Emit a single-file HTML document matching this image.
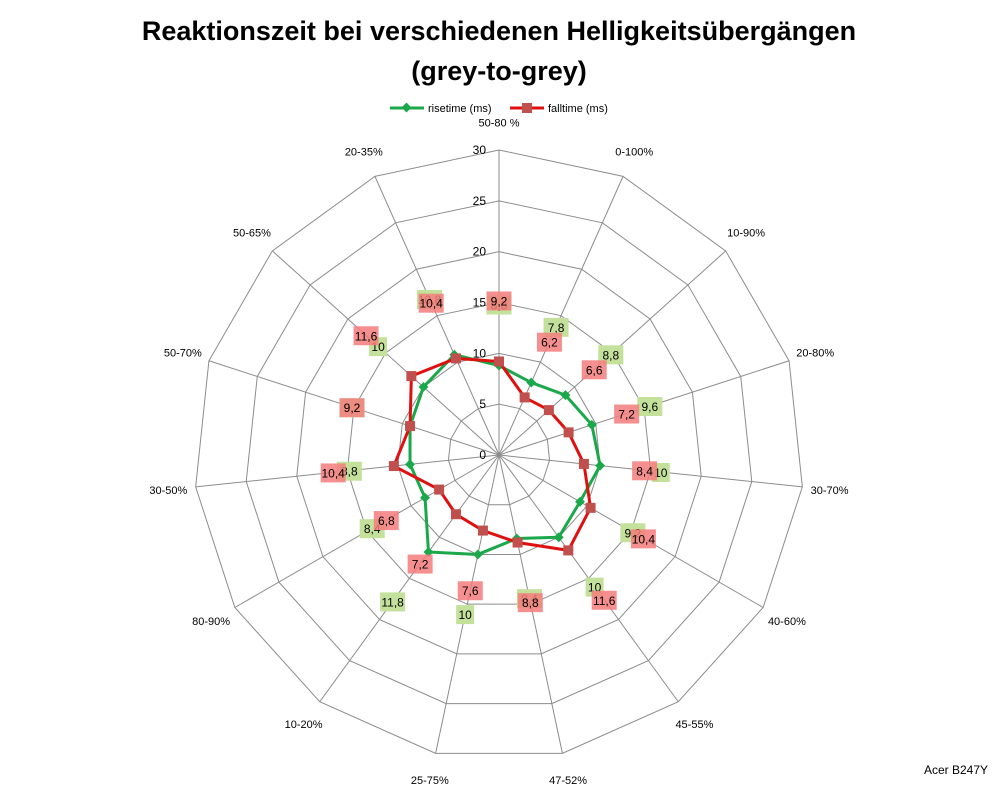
<!DOCTYPE html>
<html><head><meta charset="utf-8"><style>
body{margin:0;background:#fff;font-family:"Liberation Sans",Arial,sans-serif}
</style></head><body>
<svg id="chart" width="998" height="786" xmlns="http://www.w3.org/2000/svg" font-family="Liberation Sans, Arial, sans-serif">
<rect width="998" height="786" fill="#fff"/>
<text x="499" y="40" text-anchor="middle" font-size="27" font-weight="bold">Reaktionszeit bei verschiedenen Helligkeitsübergängen</text>
<text x="499" y="80" text-anchor="middle" font-size="27" font-weight="bold">(grey-to-grey)</text>
<g>
<line x1="390" y1="108" x2="424" y2="108" stroke="#1aa84a" stroke-width="3"/>
<rect x="403" y="104" width="7" height="7" fill="#1aa84a" transform="rotate(45 406.5 107.5)"/>
<text x="428" y="112" font-size="11">risetime (ms)</text>
<line x1="510" y1="108" x2="544" y2="108" stroke="#e01010" stroke-width="3"/>
<rect x="522" y="103" width="10" height="10" fill="#c0504d"/>
<text x="548" y="112" font-size="11">falltime (ms)</text>
</g>
<g id="grid"></g><g id="series"></g><g id="labels"></g>
<text x="988" y="774" text-anchor="end" font-size="12">Acer B247Y</text>
</svg>
<script>
const categories=["50-80 %","0-100%","10-90%","20-80%","30-70%","40-60%","45-55%","47-52%","25-75%","10-20%","80-90%","30-50%","50-70%","50-65%","20-35%"];
const rise=[8.8,7.8,8.8,9.6,10,9.2,10,8.4,10,11.8,8.4,8.8,9.2,10,10.8];
const fall=[9.2,6.2,6.6,7.2,8.4,10.4,11.6,8.8,7.6,7.2,6.8,10.4,9.2,11.6,10.4];
const ticks=[0,5,10,15,20,25,30];
const NS="http://www.w3.org/2000/svg";
const cx=499,cy=455,R=305,MAX=30,N=categories.length;
function pt(i,v){const a=i*2*Math.PI/N;const r=v/MAX*R;return [cx+r*Math.sin(a),cy-r*Math.cos(a)];}
function mk(tag,attrs,parent){const e=document.createElementNS(NS,tag);for(const k in attrs)e.setAttribute(k,attrs[k]);parent.appendChild(e);return e;}
const grid=document.getElementById('grid'),ser=document.getElementById('series'),lab=document.getElementById('labels');
ticks.slice(1).forEach(t=>{
  const p=mk('polygon',{points:categories.map((c,i)=>pt(i,t).join(',')).join(' '),fill:'none',stroke:'#8c8c8c','stroke-width':1},grid);
  
  
});
categories.forEach((c,i)=>{
  const [x,y]=pt(i,MAX);
  const l=mk('line',{x1:cx,y1:cy,x2:x,y2:y,stroke:'#8c8c8c','stroke-width':1},grid);
  
  
  const [lx,ly]=pt(i,MAX*1.09);
  const t=mk('text',{x:lx,y:ly+4,'text-anchor':'middle','font-size':11},grid);
  t.textContent=c;
  
  
});
ticks.forEach(t=>{
  const [x,y]=pt(0,t);
  const e=mk('text',{x:x-13,y:y+4,'text-anchor':'end','font-size':12},grid);
  e.textContent=t;
  
  
});
function drawSeries(vals,color,markColor,shape,name){
  const pts=vals.map((v,i)=>pt(i,v));
  const pl=mk('polygon',{points:pts.map(p=>p.join(',')).join(' '),fill:'none',stroke:color,'stroke-width':3,'stroke-linejoin':'round'},ser);
  
  
  pts.forEach(([x,y])=>{
    let m;
    if(shape==='d'){m=mk('rect',{x:x-3.5,y:y-3.5,width:7,height:7,fill:markColor,transform:`rotate(45 ${x} ${y})`},ser);}
    else{m=mk('rect',{x:x-5,y:y-5,width:10,height:10,fill:markColor},ser);}
    
    
  });
}
drawSeries(rise,'#1aa84a','#1aa84a','d','risetime');
drawSeries(fall,'#e01010','#c0504d','s','falltime');
function drawLabels(vals,bg,op,name){
  vals.forEach((v,i)=>{
    const [x,y]=pt(i,v+6);
    const s=String(v).replace('.',',');
    const w=s.length>2?25:18;
    const r=mk('rect',{x:x-w/2,y:y-9,width:w,height:19,fill:bg,opacity:op},lab);
    
    
    const t=mk('text',{x:x,y:y+5,'text-anchor':'middle','font-size':12},lab);
    t.textContent=s;
    
    
  });
}
drawLabels(rise,'#c3e19b',1,'risetime');
drawLabels(fall,'#f47c7c',0.85,'falltime');
</script>
</body></html>
